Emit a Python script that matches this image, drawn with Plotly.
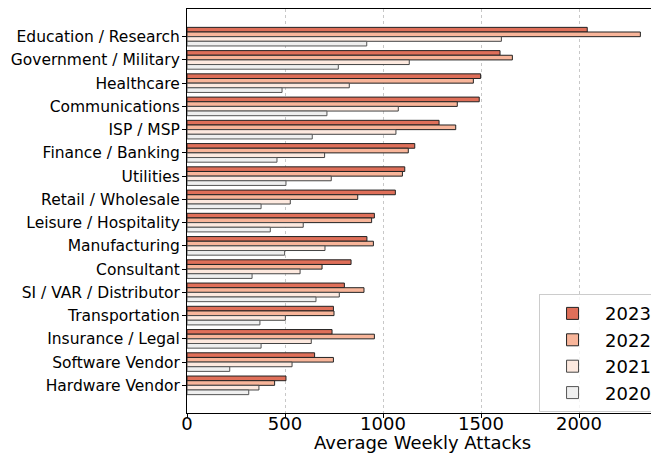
import plotly.graph_objects as go

categories = ["Education / Research", "Government / Military", "Healthcare", "Communications",
              "ISP / MSP", "Finance / Banking", "Utilities", "Retail / Wholesale",
              "Leisure / Hospitality", "Manufacturing", "Consultant", "SI / VAR / Distributor",
              "Transportation", "Insurance / Legal", "Software Vendor", "Hardware Vendor"]

v2023 = [2042, 1597, 1498, 1491, 1286, 1162, 1111, 1063, 956, 918, 837, 803, 747, 740, 651, 505]
v2022 = [2313, 1660, 1461, 1379, 1371, 1129, 1099, 871, 942, 951, 689, 903, 750, 956, 747, 447]
v2021 = [1604, 1134, 828, 1078, 1066, 702, 736, 527, 593, 704, 577, 777, 502, 634, 536, 367]
v2020 = [917, 772, 485, 714, 639, 459, 505, 378, 425, 498, 332, 658, 372, 378, 218, 315]

years = ["2023", "2022", "2021", "2020"]
series = [v2023, v2022, v2021, v2020]
colors = ["#df6f59", "#f8b59a", "#fde9df", "#efefef"]
edges = ["#222222", "#222222", "#444444", "#555555"]

font = "DejaVu Sans"
fig = go.Figure()
for name, vals, c, e in zip(years, series, colors, edges):
    fig.add_trace(go.Bar(
        y=categories, x=vals, name=name, orientation="h",
        marker=dict(color=c, line=dict(color=e, width=1)),
    ))

fig.update_layout(
    width=651, height=448,
    margin=dict(l=179, r=1, t=1, b=43, autoexpand=False),
    plot_bgcolor="white", paper_bgcolor="white",
    barmode="group", bargap=0.2, bargroupgap=0,
    font=dict(family=font, color="black"),
    showlegend=True,
    legend=dict(
        x=0.998, y=0.002, xanchor="right", yanchor="bottom",
        bordercolor="#cccccc", borderwidth=1, bgcolor="rgba(255,255,255,0.8)",
        font=dict(size=18, family=font), traceorder="normal",
        itemwidth=55, tracegroupgap=0,
    ),
    xaxis=dict(
        range=[0, 2403], tickvals=[0, 500, 1000, 1500, 2000],
        ticktext=["0", "500", "1000", "1500", "2000"],
        showgrid=True, gridcolor="#c8c8c8", griddash="dot", gridwidth=1,
        showline=True, linecolor="black", linewidth=1, mirror=True,
        ticks="outside", ticklen=4, tickcolor="black", ticklabelstandoff=-10,
        tickfont=dict(size=18), zeroline=False, automargin=False,
    ),
    yaxis=dict(
        categoryorder="array", categoryarray=categories,
        range=[16.19, -1.19], showgrid=False, automargin=False,
        showline=True, linecolor="black", linewidth=1, mirror=True,
        ticks="outside", ticklen=4, tickcolor="black", ticklabelstandoff=-1,
        tickfont=dict(size=15.5),
    ),
    annotations=[dict(
        text="Average Weekly Attacks", xref="paper", yref="paper",
        x=0.5, y=0, yshift=-29, xanchor="center", yanchor="middle",
        showarrow=False, font=dict(size=18, family=font, color="black"),
    )],
)

fig.write_html("out.html")
